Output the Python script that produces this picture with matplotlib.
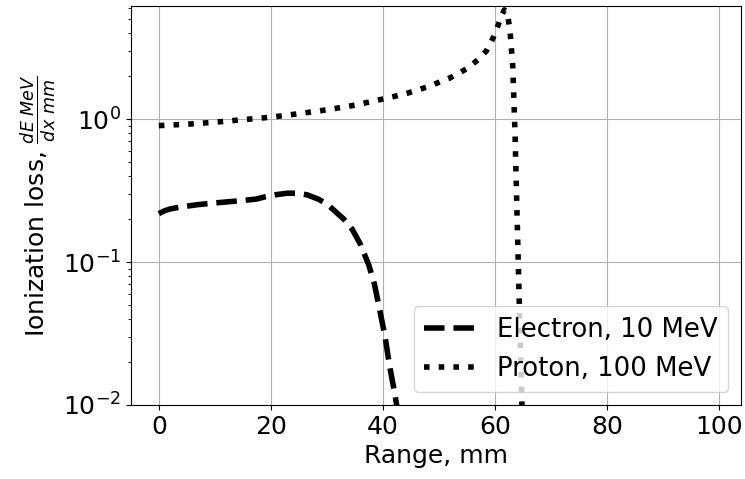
import numpy as np
import matplotlib
matplotlib.use('Agg')
import matplotlib.pyplot as plt

# Electron, 10 MeV
electron_x = [0, 1, 2, 4, 7, 10, 13, 16, 17.5, 19, 21, 23, 24.5, 26.5, 28.5, 30, 31.5, 33, 34.5, 36, 37.5, 38.5,
              39.5, 40.4, 41.2, 42.1, 43, 45, 50, 99]
electron_y = [0.218, 0.228, 0.235, 0.243, 0.252, 0.259, 0.265, 0.272, 0.276, 0.286, 0.296, 0.303, 0.303, 0.295,
              0.275, 0.255, 0.226, 0.200, 0.170, 0.133, 0.095, 0.070, 0.045, 0.030, 0.0188, 0.0122, 0.0075,
              0.002, 1e-4, 1e-6]

# Proton, 100 MeV
proton_x = [0, 5, 10, 15, 20, 25, 30, 35, 40, 44, 48, 52, 55, 57, 58.5, 59.7, 60.6, 61.2, 61.7, 62.2, 62.7, 63.2,
            63.6, 63.9, 64.2, 64.5, 64.8, 65.2, 67, 80, 99]
proton_y = [0.90, 0.92, 0.95, 0.99, 1.03, 1.09, 1.16, 1.25, 1.38, 1.50, 1.68, 1.94, 2.25, 2.60, 3.00, 3.70, 4.55,
            5.30, 5.80, 5.60, 4.20, 2.33, 0.80, 0.27, 0.093, 0.032, 0.011, 0.004, 1e-4, 1e-5, 1e-6]

plt.rcParams['font.size'] = 18

fig = plt.figure(figsize=(7.45, 4.79), dpi=100)
ax = fig.add_axes([0.176, 0.1545, 0.8186, 0.8335])
ax.plot(electron_x, electron_y, 'k--', lw=4, label='Electron, 10 MeV')
ax.plot(proton_x, proton_y, 'k:', lw=4, label='Proton, 100 MeV')
ax.set_yscale('log')
ax.set_xlim(-4.95, 103.95)
ax.set_ylim(1e-2, 6.2)
ax.set_xticks([0, 20, 40, 60, 80, 100])
ax.grid(True)
ax.set_xlabel('Range, mm')
ax.set_ylabel(r'Ionization loss, $\frac{dE\ MeV}{dx\ mm}$')
ax.legend(loc='lower right', fontsize=18.7)

fig.savefig('out.png', dpi=100)
